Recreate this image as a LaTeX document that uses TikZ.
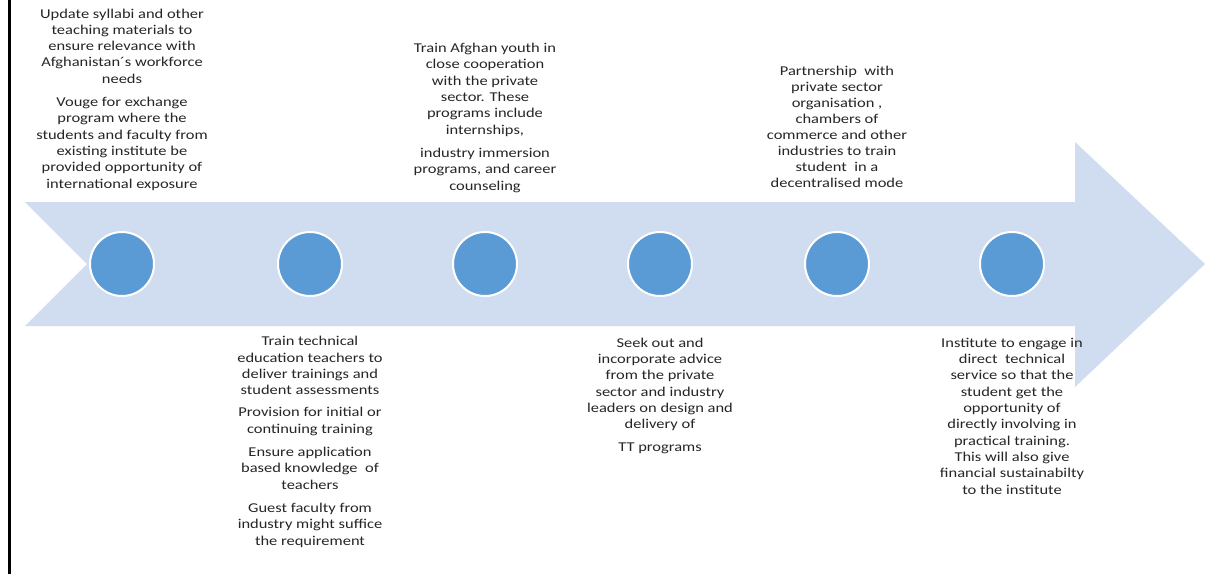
\documentclass[tikz,border=0pt]{standalone}
\usepackage{fontspec}
\setmainfont{Carlito}[FakeStretch=1.22]
\begin{document}
\begin{tikzpicture}[x=1pt,y=-1pt,
  stage/.style={circle,draw=white,line width=2pt,fill=dotblue,minimum size=64pt,inner sep=0pt},
  note/.style={align=center,inner sep=0pt,anchor=base,text=black!85,
    font=\fontsize{13.5}{16.3}\selectfont},
  tightnote/.style={note,font=\fontsize{13.5}{16}\selectfont}]
\definecolor{band}{RGB}{208,220,239}
\definecolor{dotblue}{RGB}{91,155,213}
\useasboundingbox (0,0) rectangle (1206,574);
\fill[white] (0,0) rectangle (1206,574);
% left frame rule
\draw[line width=3pt] (9.5,0) -- (9.5,574);
% timeline arrow
\fill[band] (25,202) -- (1075,202) -- (1075,142) -- (1205,264) -- (1075,387)
  -- (1075,326) -- (25,326) -- (87,264) -- cycle;
% stages
\node[stage] (s1) at (122,264) {};
\node[stage] (s2) at (310,264) {};
\node[stage] (s3) at (485,264) {};
\node[stage] (s4) at (660,264) {};
\node[stage] (s5) at (837,264) {};
\node[stage] (s6) at (1012,264) {};
% notes above the arrow (placed by the baseline of their last line)
\node[note] (t1) at (122,188) {Update syllabi and other\\teaching materials to\\ensure relevance with\\Afghanistan´s workforce\\needs\\[7pt]
  Vouge for exchange\\program where the\\students and faculty from\\existing institute be\\provided opportunity of\\international exposure};
\node[note] (t3) at (485,190) {Train Afghan youth in\\close cooperation\\with the private\\sector. These\\programs include\\internships,\\[7pt]
  industry immersion\\programs, and career\\counseling};
\node[tightnote] (t5) at (837,187) {Partnership\ \ with\\private sector\\organisation ,\\chambers of\\commerce and other\\industries to train\\student\ \ in a\\decentralised mode};
% notes below the arrow
\node[note] (t2) at (310,545) {Train technical\\education teachers to\\deliver trainings and\\student assessments\\[6pt]
  Provision for initial or\\continuing training\\[7pt]
  Ensure application\\based knowledge\ \ of\\teachers\\[7pt]
  Guest faculty from\\industry might suffice\\the requirement};
\node[note] (t4) at (660,451) {Seek out and\\incorporate advice\\from the private\\sector and industry\\leaders on design and\\delivery of\\[6pt]
  TT programs};
\node[note] (t6) at (1012,494) {Institute to engage in\\direct\ \ technical\\service so that the\\student get the\\opportunity of\\directly involving in\\practical training.\\This will also give\\financial sustainabilty\\to the institute};
\end{tikzpicture}
\end{document}
